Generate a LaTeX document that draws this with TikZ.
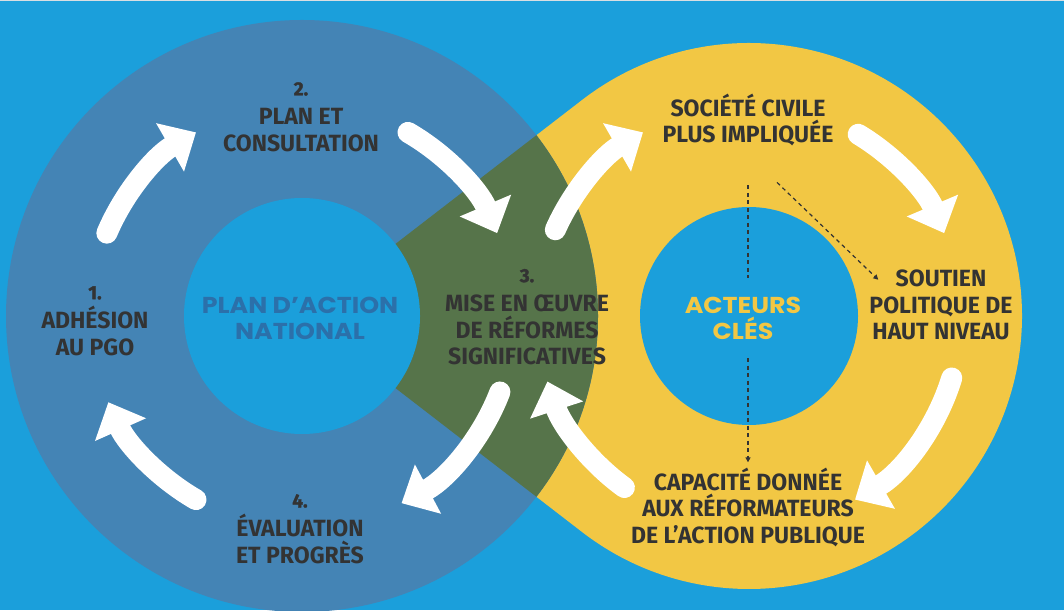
\documentclass[tikz,border=0pt]{standalone}
\usepackage{fontspec}
\usepackage{xcolor}
\usepackage{tikz}
\usetikzlibrary{
  arrows.meta,
  calc
}
\newfontfamily\labfont[FakeStretch=0.98]{Fira Sans}
\newfontfamily\numfont[FakeBold=1.5]{Fira Sans}
\newfontfamily\corefont[FakeStretch=1.1]{Poppins}
\definecolor{bgblue}{HTML}{1B9FDB}
\definecolor{ringblue}{HTML}{4484B5}
\definecolor{ringgreen}{HTML}{56744A}
\definecolor{sun}{HTML}{F2C744}
\definecolor{ink}{HTML}{333333}
\definecolor{coreblue}{HTML}{2B70AA}
\definecolor{rim}{HTML}{D9DEE2}
\newcommand{\stepnum}[1]{{\numfont\fontsize{19}{26.5}\selectfont #1}\\[3pt]}
\tikzset{
  lab/.style={
    text=ink,
    font=\labfont\bfseries\fontsize{23.5}{26.5}\selectfont,
    align=center,
    inner sep=1pt},
  core/.style={
    font=\corefont\bfseries\fontsize{23}{26}\selectfont,
    align=center},
  warrow/.style={
    white,
    line width=21pt,
    line cap=round,
    -{Triangle[width=54pt,length=30pt]}},
  dashline/.style={
    ink,
    line width=1.2pt,
    dash pattern=on 4pt off 3.5pt,
    -{Triangle[width=5pt,length=5pt]}}
  }

\begin{document}
\begin{tikzpicture}[x=1pt,y=1pt]
  \useasboundingbox (0,0) rectangle (1064,610);
  \fill[bgblue] (0,0) rectangle (1064,610);
  \fill[rim] (0,608.5) rectangle (1064,610);
  \coordinate (L) at (302,294);
  \coordinate (R) at (749,294);
  % yellow lobe and the two rings
  \fill[sun] (L) -- ([shift={(127.6:273)}]R) arc[start angle=127.6, end angle=-127.6, radius=273] -- cycle;
  \fill[ringblue] (L) circle[radius=296];
  \begin{scope}
    \clip (L) -- ([shift={(127.6:273)}]R) arc[start angle=127.6, end angle=-127.6, radius=273] -- cycle;
    \fill[ringgreen] (L) circle[radius=296];
  \end{scope}
  \fill[bgblue] (L) circle[radius=118];
  \fill[bgblue] (R) circle[radius=109];
  % cycle arrows
  \foreach \a/\b in {157/120, 60/23, -21/-62, -120/-156}
    \draw[warrow] ([shift={(\a:212)}]L) arc[start angle=\a, end angle=\b, radius=212];
  \foreach \a/\b in {156/120, 59/23, -17/-60, -126/-162}
    \draw[warrow] ([shift={(\a:212)}]R) arc[start angle=\a, end angle=\b, radius=212];
  % labels
  \node[lab] (adh) at (95,289) {\stepnum{1.}ADHÉSION\\AU PGO};
  \node[lab] (plan) at (301,493) {\stepnum{2.}PLAN ET\\CONSULTATION};
  \node[lab] (mise) at (527,293) {\stepnum{3.}MISE EN ŒUVRE\\DE RÉFORMES\\SIGNIFICATIVES};
  \node[lab] (eval) at (300,81) {\stepnum{4.}ÉVALUATION\\ET PROGRÈS};
  \node[core, text=coreblue] (pan) at (300,292) {PLAN D’ACTION\\NATIONAL};
  \node[lab] (soc) at (748,490) {SOCIÉTÉ CIVILE\\PLUS IMPLIQUÉE};
  \node[lab] (sout) at (941,305) {SOUTIEN\\POLITIQUE DE\\HAUT NIVEAU};
  \node[core, text=sun, minimum height=80pt] (act) at (743,292) {ACTEURS\\CLÉS};
  \node[lab] (cap) at (748,103) {CAPACITÉ DONNÉE\\AUX RÉFORMATEURS\\DE L’ACTION PUBLIQUE};
  % dashed links
  \draw[dashline, -] ($(soc.south)+(0,-38)$) -- (act.north -| soc);
  \draw[dashline, shorten >=4pt] (act.south -| soc) -- (cap.north -| soc);
  \draw[dashline] ($(soc.south)+(29,-35)$) -- ($(sout.north west)+(10,-11)$);
\end{tikzpicture}
\end{document}
